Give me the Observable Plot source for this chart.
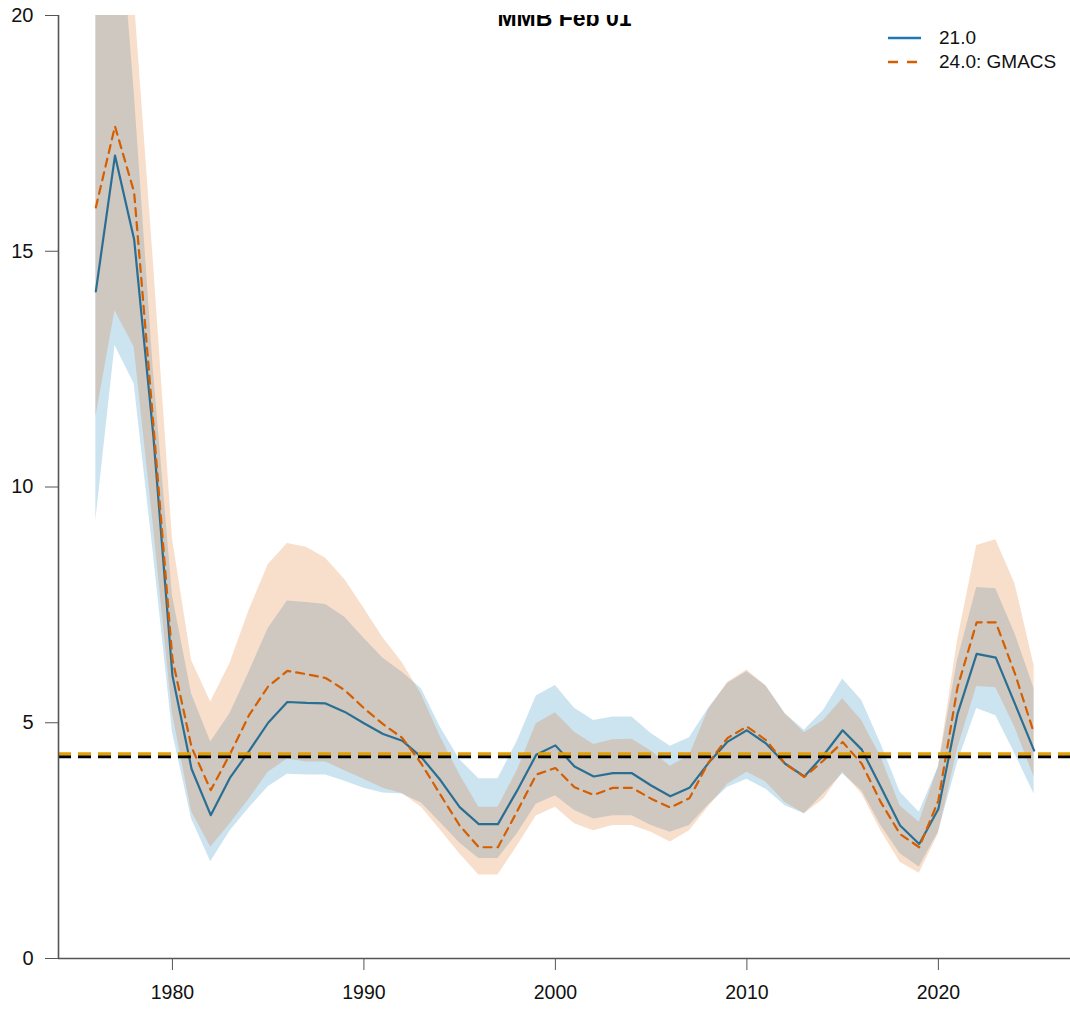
<!DOCTYPE html>
<html>
<head>
<meta charset="utf-8">
<script src="https://cdn.jsdelivr.net/npm/d3@7"></script>
<script src="https://cdn.jsdelivr.net/npm/@observablehq/plot@0.6"></script>
<style>
  html, body { margin: 0; padding: 0; background: white; }
  #wrap { position: relative; width: 1070px; height: 1011px; font-family: "Liberation Sans", Arial, sans-serif; }
  #legend { position: absolute; left: 886px; top: 26px; font-size: 19px; color: #111; line-height: 24px; }
  #legend div { display: flex; align-items: center; height: 24px; }
  #legend svg { margin-right: 17px; }
</style>
</head>
<body>
<div id="wrap">
  <div id="chart"></div>
  <div id="legend"></div>
</div>
<script>
const title = "MMB Feb 01";
const seriesNames = ["21.0", "24.0: GMACS"];
const years = [1976,1977,1978,1979,1980,1981,1982,1983,1984,1985,1986,1987,1988,1989,1990,1991,1992,1993,1994,1995,1996,1997,1998,1999,2000,2001,2002,2003,2004,2005,2006,2007,2008,2009,2010,2011,2012,2013,2014,2015,2016,2017,2018,2019,2020,2021,2022,2023,2024,2025];
const m21 = [14.15,17.03,15.25,11.1,6.0,4.02,3.04,3.83,4.4,5.0,5.44,5.42,5.41,5.23,4.99,4.76,4.62,4.27,3.78,3.21,2.85,2.85,3.56,4.32,4.52,4.07,3.86,3.93,3.93,3.67,3.44,3.62,4.15,4.6,4.84,4.56,4.13,3.86,4.31,4.84,4.43,3.63,2.82,2.43,3.17,5.19,6.46,6.38,5.4,4.41];
const m24 = [15.93,17.65,16.25,11.35,6.35,4.48,3.57,4.33,5.16,5.77,6.1,6.03,5.95,5.69,5.31,4.97,4.68,4.13,3.47,2.82,2.36,2.36,3.12,3.9,4.04,3.63,3.47,3.62,3.62,3.39,3.2,3.4,4.16,4.68,4.92,4.63,4.13,3.85,4.2,4.59,4.13,3.31,2.64,2.36,3.35,5.75,7.13,7.13,6.04,4.77];
const hi21 = [22.5,23.5,18.4,12.5,7.7,5.61,4.59,5.19,6.07,7.0,7.58,7.55,7.51,7.24,6.79,6.37,6.07,5.72,4.9,4.22,3.81,3.81,4.6,5.57,5.79,5.31,5.05,5.12,5.12,4.77,4.5,4.68,5.31,5.84,6.08,5.78,5.19,4.84,5.26,5.93,5.47,4.55,3.53,3.1,4.06,6.32,7.87,7.84,6.89,5.72];
const lo21 = [9.29,13.0,12.19,8.6,4.8,2.96,2.05,2.7,3.19,3.64,3.91,3.89,3.89,3.76,3.61,3.51,3.49,3.3,2.88,2.45,2.12,2.12,2.64,3.27,3.45,3.14,2.96,3.03,3.03,2.82,2.68,2.82,3.26,3.63,3.8,3.59,3.24,3.07,3.49,3.92,3.56,2.82,2.22,1.94,2.68,4.15,5.3,5.15,4.34,3.49];
const hi24 = [22.5,24.0,20.4,14.8,8.9,6.32,5.44,6.25,7.38,8.35,8.8,8.72,8.49,8.04,7.43,6.8,6.28,5.6,4.7,3.9,3.21,3.21,3.98,4.98,5.21,4.8,4.54,4.64,4.65,4.4,4.08,4.3,5.28,5.86,6.12,5.78,5.19,4.79,5.05,5.51,5.05,4.27,3.24,2.89,4.06,6.74,8.76,8.88,7.95,6.21];
const lo24 = [11.48,13.74,12.97,9.2,5.2,3.12,2.36,2.85,3.38,3.95,4.23,4.17,4.17,3.98,3.8,3.61,3.5,3.21,2.72,2.22,1.77,1.77,2.38,3.02,3.21,2.86,2.71,2.82,2.82,2.68,2.47,2.71,3.22,3.7,3.95,3.74,3.31,3.07,3.38,3.95,3.49,2.71,2.04,1.81,2.64,4.45,5.77,5.74,4.9,3.85];
const refBlack = 4.28;
const refGold = 4.34;
const xTicks = [1980, 1990, 2000, 2010, 2020];
const yTicks = [0, 5, 10, 15, 20];
const xDomain = [1974.05, 2026.9];
const yDomain = [0, 20];

const colBlue = "#0072B2", colOrange = "#D55E00";
const lineBlue = "#2a6f93";

const rows = years.map((yr, i) => ({year: yr, m21: m21[i], m24: m24[i], hi21: hi21[i], lo21: lo21[i], hi24: hi24[i], lo24: lo24[i]}));

const plot = Plot.plot({
  width: 1070,
  height: 1011,
  marginLeft: 58,
  marginRight: 0,
  marginTop: 15,
  marginBottom: 53,
  style: {fontFamily: "Liberation Sans, Arial, sans-serif", background: "white", color: "#111"},
  x: {domain: xDomain},
  y: {domain: yDomain},
  marks: [
    Plot.areaY(rows, {x: "year", y1: "lo21", y2: "hi21", fill: colBlue, fillOpacity: 0.2, clip: true}),
    Plot.areaY(rows, {x: "year", y1: "lo24", y2: "hi24", fill: colOrange, fillOpacity: 0.2, clip: true}),
    Plot.lineY(rows, {x: "year", y: "m21", stroke: lineBlue, strokeWidth: 2.2, clip: true}),
    Plot.lineY(rows, {x: "year", y: "m24", stroke: colOrange, strokeWidth: 2.2, strokeDasharray: "8,6", clip: true}),
    Plot.ruleY([refBlack], {stroke: "black", strokeWidth: 3, strokeDasharray: "13,7"}),
    Plot.ruleY([refGold], {stroke: "#E69F00", strokeWidth: 3, strokeDasharray: "13,7"}),
    Plot.ruleY([yDomain[0]], {stroke: "#555", strokeWidth: 1.6}),
    Plot.ruleX([xDomain[0]], {stroke: "#555", strokeWidth: 1.6}),
    Plot.axisY({ticks: yTicks, tickSize: 13, tickPadding: 12, fontSize: 20, stroke: "#555", label: null, tickFormat: d => String(d)}),
    Plot.axisX({ticks: xTicks, tickSize: 12, tickPadding: 15, fontSize: 19.5, stroke: "#555", label: null, tickFormat: d => String(d)}),
    Plot.text([title], {frameAnchor: "top", lineAnchor: "top", dy: -6, fontSize: 23, fontWeight: "bold", fill: "#000", clip: true})
  ]
});
document.getElementById("chart").appendChild(plot);

const legendItems = [
  {name: seriesNames[0], color: "#1f78b4", dash: null},
  {name: seriesNames[1], color: colOrange, dash: "10,9"}
];
const leg = document.getElementById("legend");
legendItems.forEach(it => {
  const row = document.createElement("div");
  row.innerHTML = `<svg width="36" height="6"><line x1="2" x2="35" y1="3" y2="3" stroke="${it.color}" stroke-width="2.5" ${it.dash ? `stroke-dasharray="${it.dash}"` : ""}/></svg><span>${it.name}</span>`;
  leg.appendChild(row);
});
</script>
</body>
</html>
